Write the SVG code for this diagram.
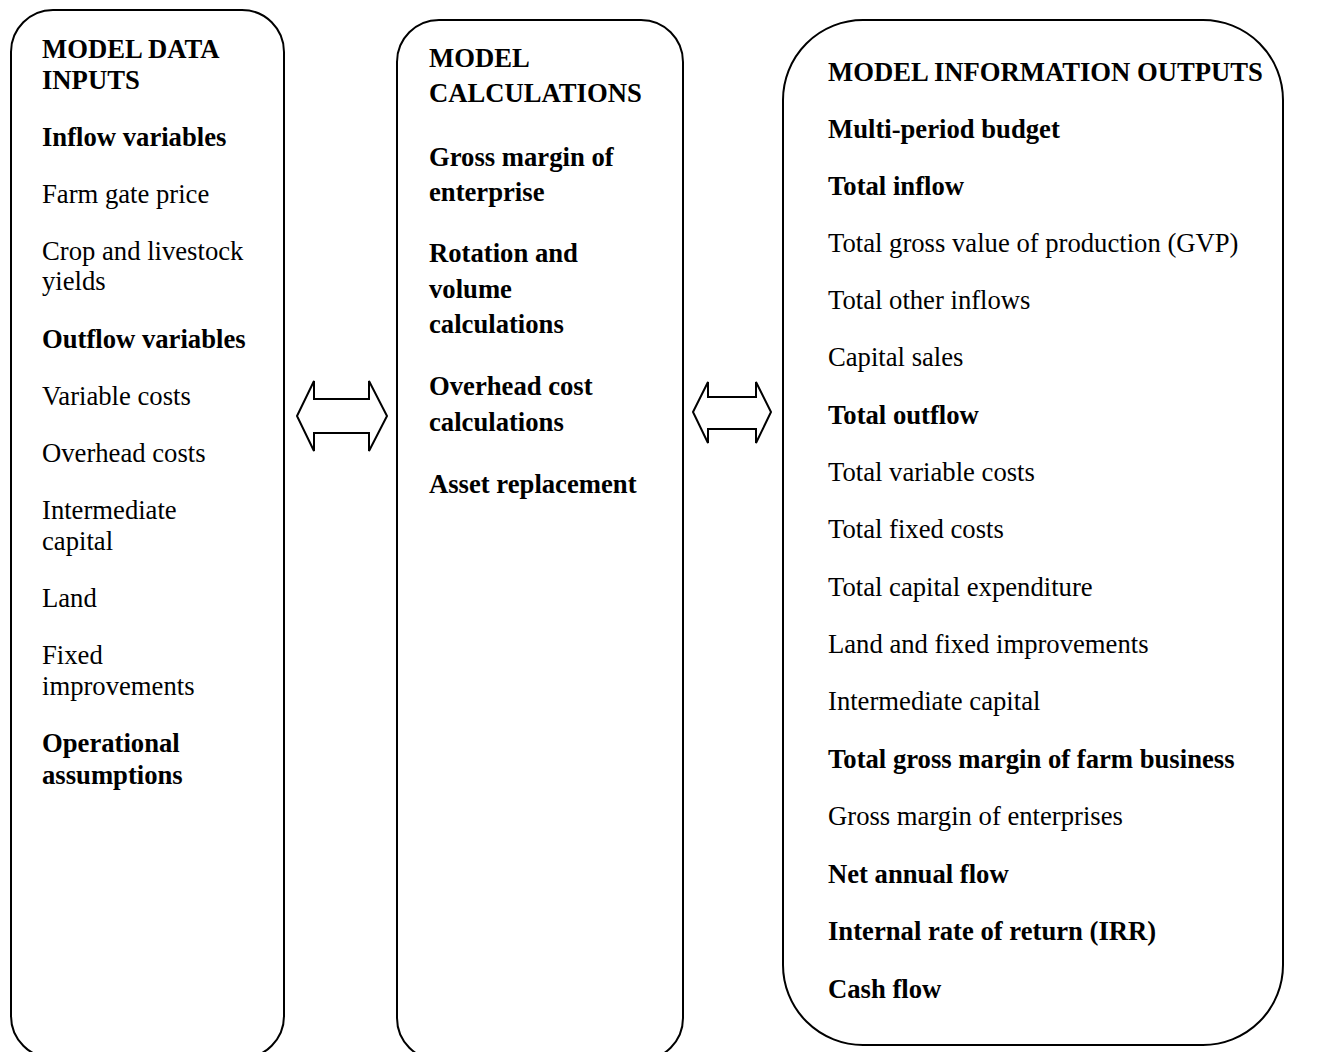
<svg xmlns="http://www.w3.org/2000/svg" width="1331" height="1052" viewBox="0 0 1331 1052">
<style>
.box{fill:#fff;stroke:#000;stroke-width:2}
.arr{fill:#fff;stroke:#000;stroke-width:2;stroke-linejoin:miter}
text{font-family:"Liberation Serif","Times New Roman",serif;font-size:26.67px;fill:#000}
.b{font-weight:bold}
</style>
<rect width="1331" height="1052" fill="#fff"/>
<g id="inputs">
<rect class="box" x="11" y="10" width="273" height="1048" rx="42" ry="42"/>
<text class="b" x="42" y="58">MODEL DATA</text>
<text class="b" x="42" y="89">INPUTS</text>
<text class="b" x="42" y="146">Inflow variables</text>
<text x="42" y="203">Farm gate price</text>
<text x="42" y="260">Crop and livestock</text>
<text x="42" y="290">yields</text>
<text class="b" x="42" y="348">Outflow variables</text>
<text x="42" y="405">Variable costs</text>
<text x="42" y="462">Overhead costs</text>
<text x="42" y="519">Intermediate</text>
<text x="42" y="550">capital</text>
<text x="42" y="607">Land</text>
<text x="42" y="664">Fixed</text>
<text x="42" y="695">improvements</text>
<text class="b" x="42" y="752">Operational</text>
<text class="b" x="42" y="784">assumptions</text>
</g>
<g id="calculations">
<rect class="box" x="397" y="20" width="286" height="1040" rx="42" ry="42"/>
<text class="b" x="429" y="67">MODEL</text>
<text class="b" x="429" y="102">CALCULATIONS</text>
<text class="b" x="429" y="166">Gross margin of</text>
<text class="b" x="429" y="201">enterprise</text>
<text class="b" x="429" y="262">Rotation and</text>
<text class="b" x="429" y="298">volume</text>
<text class="b" x="429" y="333">calculations</text>
<text class="b" x="429" y="395">Overhead cost</text>
<text class="b" x="429" y="431">calculations</text>
<text class="b" x="429" y="493">Asset replacement</text>
</g>
<g id="outputs">
<rect class="box" x="783" y="20" width="500" height="1025" rx="80" ry="80"/>
<text class="b" x="828" y="81">MODEL INFORMATION OUTPUTS</text>
<text class="b" x="828" y="138">Multi-period budget</text>
<text class="b" x="828" y="195">Total inflow</text>
<text x="828" y="252">Total gross value of production (GVP)</text>
<text x="828" y="309">Total other inflows</text>
<text x="828" y="366">Capital sales</text>
<text class="b" x="828" y="424">Total outflow</text>
<text x="828" y="481">Total variable costs</text>
<text x="828" y="538">Total fixed costs</text>
<text x="828" y="596">Total capital expenditure</text>
<text x="828" y="653">Land and fixed improvements</text>
<text x="828" y="710">Intermediate capital</text>
<text class="b" x="828" y="768">Total gross margin of farm business</text>
<text x="828" y="825">Gross margin of enterprises</text>
<text class="b" x="828" y="883">Net annual flow</text>
<text class="b" x="828" y="940">Internal rate of return (IRR)</text>
<text class="b" x="828" y="998">Cash flow</text>
</g>
<g id="connectors">
<polygon class="arr" points="297,416 314,381 314,399 369,399 369,381 387,416 369,451 369,433 314,433 314,451"/>
<polygon class="arr" points="693,412 708,382 708,397 756,397 756,382 771,412 756,443 756,429 708,429 708,443"/>
</g>
</svg>
